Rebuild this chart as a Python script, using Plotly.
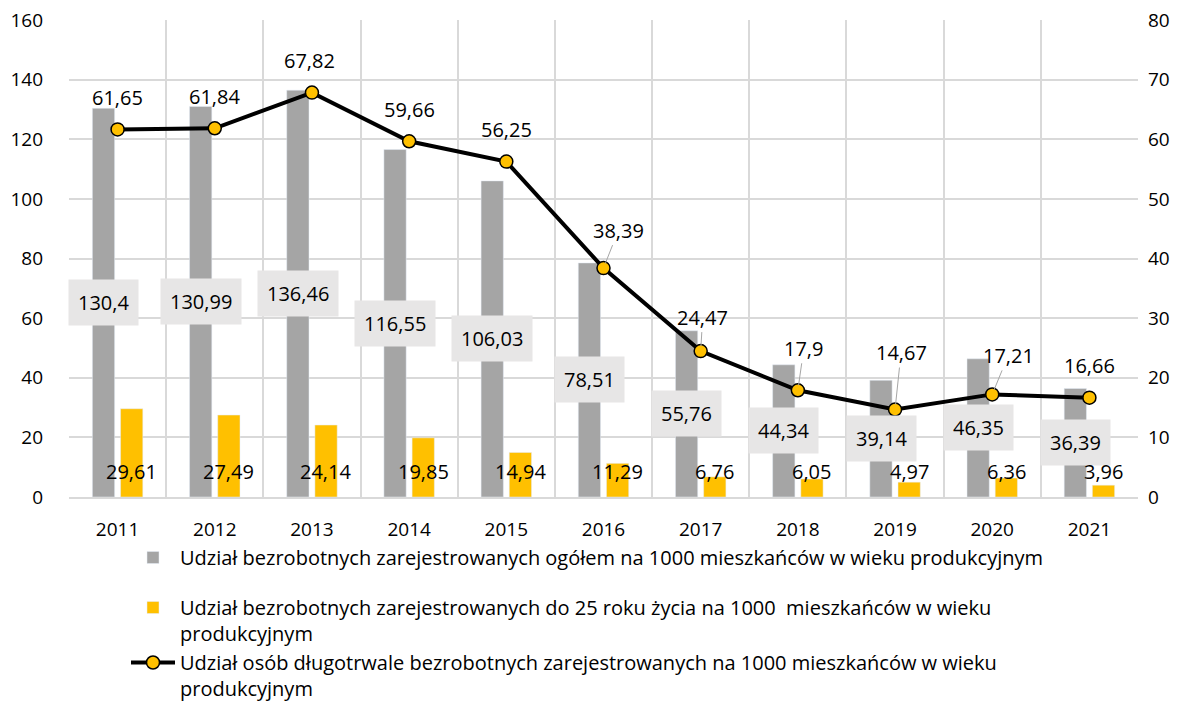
import plotly.graph_objects as go

years = ["2011", "2012", "2013", "2014", "2015", "2016", "2017", "2018", "2019", "2020", "2021"]
total_rate = [130.4, 130.99, 136.46, 116.55, 106.03, 78.51, 55.76, 44.34, 39.14, 46.35, 36.39]
youth_rate = [29.61, 27.49, 24.14, 19.85, 14.94, 11.29, 6.76, 6.05, 4.97, 6.36, 3.96]
longterm_rate = [61.65, 61.84, 67.82, 59.66, 56.25, 38.39, 24.47, 17.9, 14.67, 17.21, 16.66]

name_total = "Udział bezrobotnych zarejestrowanych ogółem na 1000 mieszkańców w wieku produkcyjnym"
name_youth = "Udział bezrobotnych zarejestrowanych do 25 roku życia na 1000  mieszkańców w wieku<br>produkcyjnym"
name_long = "Udział osób długotrwale bezrobotnych zarejestrowanych na 1000 mieszkańców w wieku<br>produkcyjnym"

# label offsets (pixels) for the line labels and whether a leader line is shown
line_label_offsets = [(0, -32), (0, -32), (-2, -32), (0, -32), (0, -32), (15, -38),
                      (2, -34), (6, -42), (6, -57), (16, -39), (0, -32)]
line_leader = [False, False, False, False, False, True, True, True, True, True, False]

FONT = "Open Sans"
GRAY = "#A5A5A5"
YELLOW = "#FFC000"
GRID = "#D9D9D9"
LBL = 20


def fmt(v):
    return f"{v:g}".replace(".", ",")


fig = go.Figure()
fig.add_trace(go.Bar(x=years, y=total_rate, name=name_total, marker_color=GRAY, yaxis="y",
                     legendgroup="g1"))
fig.add_trace(go.Bar(x=years, y=youth_rate, name=name_youth, marker_color=YELLOW, yaxis="y",
                     legendgroup="g2"))
fig.add_trace(go.Scatter(x=years, y=longterm_rate, name=name_long, yaxis="y2",
                         mode="lines+markers", legendgroup="g2",
                         line=dict(color="black", width=4),
                         marker=dict(color=YELLOW, size=13, line=dict(color="black", width=1.5))))

annotations = []
for i, v in enumerate(total_rate):
    annotations.append(dict(x=i, y=v / 2, xref="x", yref="y", text=fmt(v), showarrow=False,
                            xshift=-14, bgcolor="#E7E6E6", borderpad=9,
                            font=dict(family=FONT, size=LBL, color="black")))
for i, v in enumerate(youth_rate):
    annotations.append(dict(x=i, y=0, xref="x", yref="y", text=fmt(v), showarrow=False,
                            xshift=14, yshift=10, yanchor="bottom",
                            font=dict(family=FONT, size=LBL, color="black")))
for i, (v, (ax, ay), lead) in enumerate(zip(longterm_rate, line_label_offsets, line_leader)):
    annotations.append(dict(x=i, y=v, xref="x", yref="y2", text=fmt(v), showarrow=True,
                            ax=ax, ay=ay, axref="pixel", ayref="pixel", arrowhead=0,
                            arrowwidth=1, standoff=5,
                            arrowcolor="#A6A6A6" if lead else "rgba(0,0,0,0)",
                            font=dict(family=FONT, size=LBL, color="black")))

fig.update_layout(
    width=1180, height=695,
    margin=dict(l=61, r=50, t=12, b=206, autoexpand=False),
    paper_bgcolor="white", plot_bgcolor="white",
    font=dict(family=FONT, size=19, color="black"),
    barmode="group", bargap=0.42, bargroupgap=0.21,
    annotations=annotations,
    xaxis=dict(type="category", range=[-0.5, len(years) - 0.5], tickson="boundaries",
               showgrid=True, gridcolor=GRID, gridwidth=2,
               ticks="", showline=True, linecolor=GRID, linewidth=2, mirror=False,
               ticklabelstandoff=14, tickfont=dict(family=FONT, size=19)),
    yaxis=dict(range=[0, 160], dtick=20, showgrid=True, gridcolor=GRID, gridwidth=2,
               zeroline=False, ticks="", ticklabelstandoff=25, ticklabeloverflow="allow",
               tickfont=dict(family=FONT, size=19)),
    yaxis2=dict(range=[0, 80], dtick=10, overlaying="y", side="right", showgrid=False,
                zeroline=False, ticks="", ticklabelstandoff=9, ticklabeloverflow="allow",
                tickfont=dict(family=FONT, size=19)),
    legend=dict(orientation="v", x=(126 - 69) / 1069, y=(497 - 538) / 477,
                xanchor="left", yanchor="top", valign="top", itemwidth=44,
                tracegroupgap=21, groupclick="toggleitem",
                font=dict(family=FONT, size=20, color="black"), traceorder="grouped",
                bgcolor="rgba(0,0,0,0)"),
)

fig.write_html("out.html")
